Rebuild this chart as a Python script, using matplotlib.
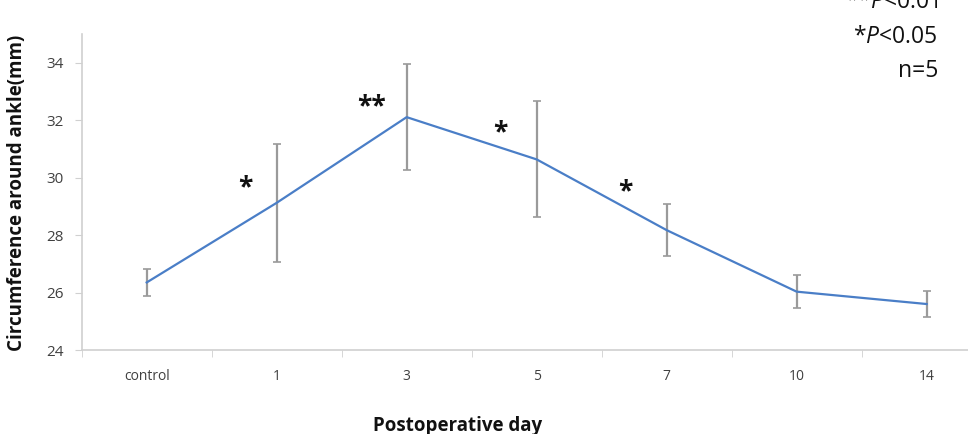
import numpy as np
import matplotlib.pyplot as plt

plt.rcParams['font.family'] = ['Open Sans', 'DejaVu Sans']
plt.rcParams['mathtext.fontset'] = 'custom'
plt.rcParams['mathtext.it'] = 'Open Sans:italic'

days = ['control', '1', '3', '5', '7', '10', '14']
mean = [26.35, 29.12, 32.1, 30.63, 28.17, 26.03, 25.6]
sd = [0.48, 2.05, 1.85, 2.02, 0.9, 0.58, 0.45]

# significance marks: (x position in category units, y value, text)
star_x = [0.76, 1.73, 2.72, 3.68]
star_y = [29.65, 32.45, 31.55, 29.5]
star_txt = ['*', '**', '*', '*']

fig = plt.figure(figsize=(9.68, 4.34), dpi=100)
ax = fig.add_axes([0.0844, 0.1935, 0.94, 0.7287])

x = np.arange(len(days))
ax.errorbar(x, mean, yerr=sd, color='#4a7ec7', linewidth=1.6,
            ecolor='#9a9a9a', elinewidth=1.6, capsize=3, capthick=1.2, zorder=3)

for sx, sy, t in zip(star_x, star_y, star_txt):
    ax.text(sx, sy, t, fontsize=19, fontweight='bold', ha='center', va='center',
            color='#111111')

ax.set_xlim(-0.5, 6.5)
ax.set_ylim(24, 35)
ax.set_yticks(np.arange(24, 35, 2))
ax.set_xticks(x)
ax.set_xticklabels(days)
ax.set_xticks(np.arange(-0.5, 6.6, 1), minor=True)
ax.tick_params(axis='x', which='major', length=0, pad=14, labelsize=10, labelcolor='#404040')
ax.tick_params(axis='x', which='minor', length=5, color='#d0d0d0', direction='out')
ax.tick_params(axis='y', length=5, color='#d0d0d0', labelsize=11, labelcolor='#404040', pad=8)

for s in ['top', 'right']:
    ax.spines[s].set_visible(False)
for s in ['left', 'bottom']:
    ax.spines[s].set_color('#d0d0d0')
    ax.spines[s].set_linewidth(1.2)

fig.text(0.018, 0.555, 'Circumference around ankle(mm)', rotation=90,
         ha='center', va='center', fontsize=13.5, fontweight='bold', color='#111111')
fig.text(0.473, 0.042, 'Postoperative day', ha='center', va='top',
         fontsize=13.5, fontweight='bold', color='#111111')

fig.text(0.969, 0.982, '**$\\it{P}$<0.01', ha='right', va='baseline', fontsize=16.5, color='#111111')
fig.text(0.969, 0.901, '*$\\it{P}$<0.05', ha='right', va='baseline', fontsize=16.5, color='#111111')
fig.text(0.969, 0.823, 'n=5', ha='right', va='baseline', fontsize=16.5, color='#111111')

fig.savefig('out.png', dpi=100)
